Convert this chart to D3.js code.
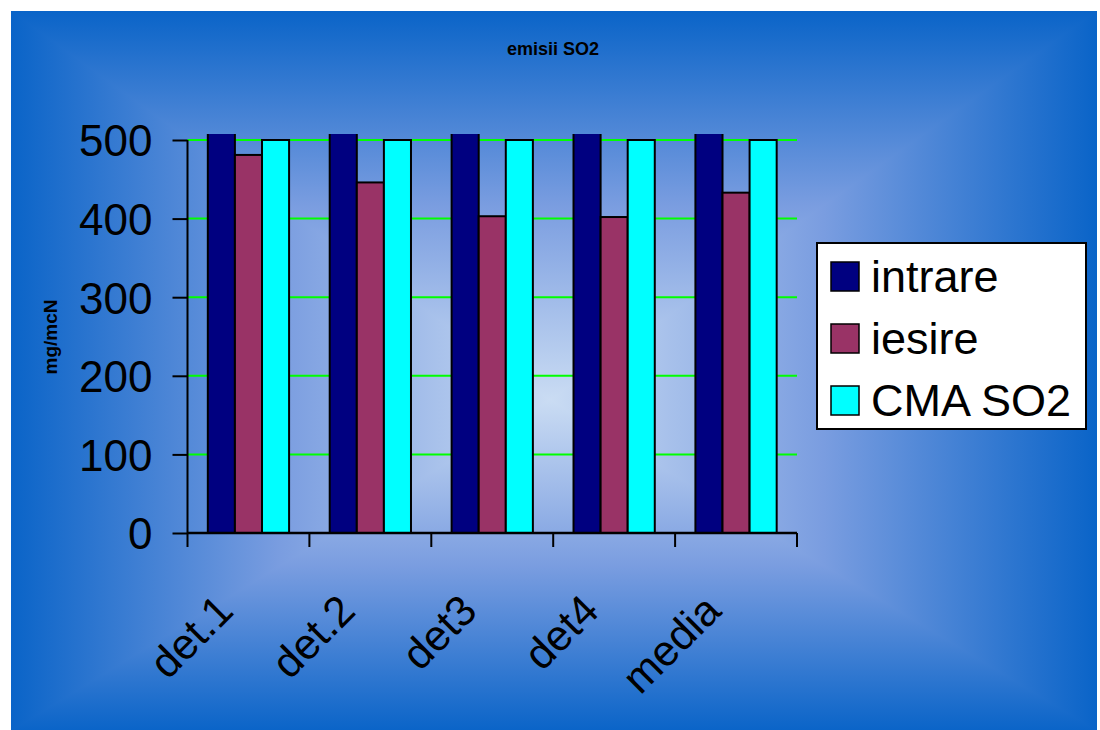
<!DOCTYPE html>
<html>
<head>
<meta charset="utf-8">
<script src="https://cdn.jsdelivr.net/npm/d3@7"></script>
<style>
  html, body { margin: 0; padding: 0; background: #ffffff; }
  svg { display: block; }
  text { font-family: "Liberation Sans", Arial, sans-serif; fill: #000; }
</style>
</head>
<body>
<svg id="chart" width="1100" height="730"></svg>
<script>
// Data
const categories = ["det.1", "det.2", "det3", "det4", "media"];
const seriesNames = ["intrare", "iesire", "CMA SO2"];
const intrare = [1850, 1790, 1720, 1680, 1760];   // above the axis maximum, shown clipped
const iesire  = [481, 446, 403, 402, 433];
const cmaSO2  = [500, 500, 500, 500, 500];
const yTicks  = [0, 100, 200, 300, 400, 500];
const seriesColors = ["#000080", "#993366", "#00FFFF"];

const seriesValues = [intrare, iesire, cmaSO2];

const svg = d3.select("#chart");
const defs = svg.append("defs");

// ---- Background: rectangular gradient, dark edges to a light centre ----
const bg = { x0: 11, y0: 11, x1: 1097, y1: 731, cx: 550, cy: 400 };
const edgeColor = "#0a64c8", midColor = "#7a9de0", centerColor = "#cadcf3";

function addStops(g, stops) {
  stops.forEach(s => g.append("stop").attr("offset", s[0]).attr("stop-color", s[1]));
}
// vertical profile: top edge -> centre -> bottom edge
const tTop = (bg.cy - bg.y0) / (bg.y1 - bg.y0);
const gV = defs.append("linearGradient").attr("id", "gV")
  .attr("gradientUnits", "userSpaceOnUse")
  .attr("x1", 0).attr("y1", bg.y0).attr("x2", 0).attr("y2", bg.y1);
addStops(gV, [[0, edgeColor], [tTop / 2, midColor], [tTop, centerColor],
              [tTop + (1 - tTop) / 2, midColor], [1, edgeColor]]);
// horizontal profile: left edge -> centre -> right edge
const tLeft = (bg.cx - bg.x0) / (bg.x1 - bg.x0);
const gH = defs.append("linearGradient").attr("id", "gH")
  .attr("gradientUnits", "userSpaceOnUse")
  .attr("x1", bg.x0).attr("y1", 0).attr("x2", bg.x1).attr("y2", 0);
addStops(gH, [[0, edgeColor], [tLeft / 2, midColor], [tLeft, centerColor],
              [tLeft + (1 - tLeft) / 2, midColor], [1, edgeColor]]);

const bgLayer = svg.append("g");
bgLayer.append("rect")
  .attr("x", bg.x0).attr("y", bg.y0)
  .attr("width", bg.x1 - bg.x0).attr("height", bg.y1 - bg.y0)
  .attr("fill", "url(#gV)");
// left and right wedges use the horizontal profile
const wedges = [
  [[bg.x0, bg.y0], [bg.cx, bg.cy], [bg.x0, bg.y1]],
  [[bg.x1, bg.y0], [bg.cx, bg.cy], [bg.x1, bg.y1]]
];
bgLayer.selectAll("polygon").data(wedges).join("polygon")
  .attr("points", d => d.map(p => p.join(",")).join(" "))
  .attr("fill", "url(#gH)");

// ---- Scales ----
const plot = { left: 187.5, right: 797, top: 140, bottom: 533 };
const y = d3.scaleLinear().domain([0, 500]).range([plot.bottom, plot.top]);
const x0 = d3.scaleBand().domain(categories).range([plot.left, plot.right])
  .paddingInner(1 / 3).paddingOuter(1 / 6);
const x1 = d3.scaleBand().domain(seriesNames).range([0, x0.bandwidth()]);
const color = d3.scaleOrdinal().domain(seriesNames).range(seriesColors);

// Plot ceiling: bars taller than this are cut off
const ceilingValue = 507.5;
defs.append("clipPath").attr("id", "plotClip")
  .append("rect")
  .attr("x", plot.left).attr("y", y(ceilingValue))
  .attr("width", plot.right - plot.left)
  .attr("height", plot.bottom - y(ceilingValue));

// ---- Gridlines ----
svg.append("g")
  .selectAll("line").data(yTicks.filter(d => d > 0)).join("line")
  .attr("x1", plot.left).attr("x2", plot.right)
  .attr("y1", d => y(d)).attr("y2", d => y(d))
  .attr("stroke", "#00ff00").attr("stroke-width", 2);

// ---- Bars ----
const barData = [];
categories.forEach((c, i) => {
  seriesNames.forEach((s, j) => barData.push({ cat: c, series: s, value: seriesValues[j][i] }));
});
svg.append("g").attr("clip-path", "url(#plotClip)")
  .selectAll("rect").data(barData).join("rect")
  .attr("x", d => x0(d.cat) + x1(d.series))
  .attr("y", d => y(d.value))
  .attr("width", x1.bandwidth())
  .attr("height", d => y(0) - y(d.value))
  .attr("fill", d => color(d.series))
  .attr("stroke", "#000").attr("stroke-width", 2);

// ---- Axes ----
const yAxis = d3.axisLeft(y).tickValues(yTicks).tickSize(15).tickPadding(20)
  .tickFormat(d3.format("d"));
const gy = svg.append("g").attr("transform", `translate(${plot.left},0)`).call(yAxis);
gy.select(".domain").remove();
gy.selectAll(".tick line").attr("stroke", "#000").attr("stroke-width", 2);
gy.selectAll(".tick text")
  .style("font-size", "44px")
  .attr("fill", "#000")
  .attr("dy", "0.36em");

// y axis line (runs down to the tick marks of the category axis)
svg.append("line")
  .attr("x1", plot.left).attr("x2", plot.left)
  .attr("y1", plot.top).attr("y2", plot.bottom + 14)
  .attr("stroke", "#000").attr("stroke-width", 2);

// x axis line and category boundary ticks
svg.append("line")
  .attr("x1", plot.left).attr("x2", plot.right)
  .attr("y1", plot.bottom).attr("y2", plot.bottom)
  .attr("stroke", "#000").attr("stroke-width", 2.5);
const boundaries = categories.map(c => x0(c) - x0.step() * x0.paddingOuter())
  .concat([plot.right]);
svg.append("g").selectAll("line").data(boundaries.slice(1)).join("line")
  .attr("x1", d => d).attr("x2", d => d)
  .attr("y1", plot.bottom).attr("y2", plot.bottom + 14)
  .attr("stroke", "#000").attr("stroke-width", 2);

// Category labels, rotated 45°
svg.append("g").selectAll("text").data(categories).join("text")
  .attr("transform", d => `translate(${x0(d) + x0.bandwidth() / 2 - 13},${plot.bottom + 80}) rotate(-45)`)
  .attr("text-anchor", "end")
  .style("font-size", "43px")
  .text(d => d);

// ---- Titles ----
svg.append("text")
  .attr("x", 553).attr("y", 55)
  .attr("text-anchor", "middle")
  .style("font-size", "18px").style("font-weight", "bold")
  .text("emisii SO2");

svg.append("text")
  .attr("transform", `translate(57,337) rotate(-90)`)
  .attr("text-anchor", "middle")
  .style("font-size", "19px").style("font-weight", "bold")
  .text("mg/mcN");

// ---- Legend ----
const legend = svg.append("g").attr("transform", "translate(817,243)");
legend.append("rect")
  .attr("width", 269).attr("height", 186)
  .attr("fill", "#fff").attr("stroke", "#000").attr("stroke-width", 2);
const items = legend.selectAll("g.item").data(seriesNames).join("g")
  .attr("class", "item")
  .attr("transform", (d, i) => `translate(14,${19 + i * 62})`);
items.append("rect")
  .attr("width", 28).attr("height", 29)
  .attr("fill", d => color(d))
  .attr("stroke", "#000").attr("stroke-width", 1.5);
items.append("text")
  .attr("x", 40).attr("y", 30)
  .style("font-size", "45px")
  .text(d => d);
</script>
</body>
</html>
